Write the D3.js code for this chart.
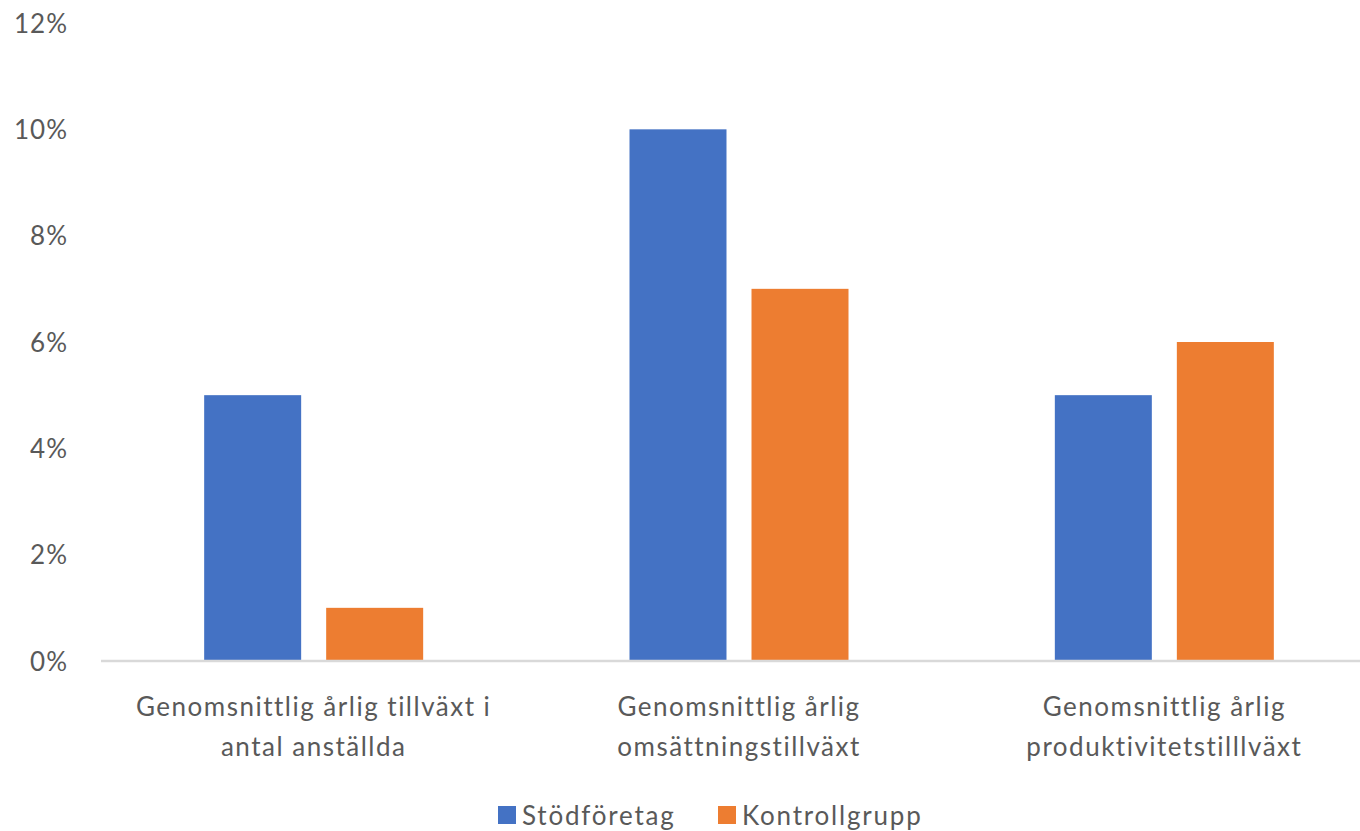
<!DOCTYPE html>
<html><head><meta charset="utf-8">
<script src="https://cdn.jsdelivr.net/npm/d3@7"></script>
<style>body{margin:0;background:#fff}svg{display:block}text{font-family:Lato,"Open Sans",sans-serif;fill:#595959}</style>
</head><body><svg id="c" width="1360" height="831"></svg>
<script>
const categories = [
  ["Genomsnittlig årlig tillväxt i", "antal anställda"],
  ["Genomsnittlig årlig", "omsättningstillväxt"],
  ["Genomsnittlig årlig", "produktivitetstilllväxt"]
];
const seriesNames = ["Stödföretag", "Kontrollgrupp"];
const stod = [0.05, 0.10, 0.05];
const kontroll = [0.01, 0.07, 0.06];
const tickValues = [0, 0.02, 0.04, 0.06, 0.08, 0.10, 0.12];
const colors = ["#4472C4", "#ED7D31"];

const svg = d3.select("#c");
const y = d3.scaleLinear().domain([0, 0.12]).range([661, 23]);
const x0 = d3.scaleBand().domain(d3.range(3)).range([101, 1377]).paddingInner(0).paddingOuter(0);
const groupW = 219;
const x1 = d3.scaleBand().domain([0, 1]).range([0, groupW]).paddingInner(0.205);
const groupOffset = (x0.bandwidth() - groupW) / 2;

// y tick labels
const yAxis = d3.axisLeft(y).tickValues(tickValues).tickSize(0).tickFormat(d3.format(".0%"));
const gy = svg.append("g").attr("transform", "translate(71,0)").call(yAxis);
gy.select(".domain").remove();
gy.selectAll("text").style("font-size", "26px").style("letter-spacing", "1px").attr("fill", "#595959").attr("dx", 0).attr("dy", "0.35em");

const data = [stod, kontroll];
const g = svg.append("g");
data.forEach((vals, s) => {
  g.selectAll(null).data(vals).enter().append("rect")
    .attr("x", (d, i) => x0(i) + groupOffset + x1(s))
    .attr("width", x1.bandwidth())
    .attr("y", d => y(d))
    .attr("height", d => y(0) - y(d))
    .attr("fill", colors[s]);
});

// baseline
svg.append("line").attr("x1", 101).attr("x2", 1360).attr("y1", y(0)).attr("y2", y(0))
  .attr("stroke", "#d9d9d9").attr("stroke-width", 2.5);

// category labels
const xAxis = d3.axisBottom(x0).tickSize(0).tickFormat("");
const gx = svg.append("g").attr("transform", `translate(0,${y(0)})`).call(xAxis);
gx.select(".domain").remove();
categories.forEach((lines, i) => {
  const cx = x0(i) + x0.bandwidth() / 2;
  const t = svg.append("text").attr("x", cx).attr("text-anchor", "middle")
    .style("font-size", "26px").style("letter-spacing", "1.5px");
  lines.forEach((l, k) => t.append("tspan").attr("x", cx).attr("y", 716 + k * 40).text(l));
});

// legend
const legend = [{x: 498}, {x: 718}];
seriesNames.forEach((n, s) => {
  svg.append("rect").attr("x", legend[s].x).attr("y", 806).attr("width", 18).attr("height", 18).attr("fill", colors[s]);
  svg.append("text").attr("x", legend[s].x + 24).attr("y", 825).style("font-size", "26px").style("letter-spacing", "1.8px").text(n);
});
</script></body></html>
